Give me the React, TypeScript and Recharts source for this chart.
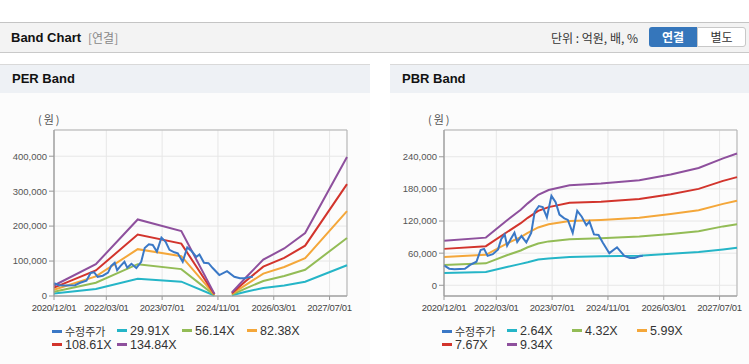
import React from "react";
import { LineChart, Line, XAxis, YAxis, CartesianGrid, ReferenceArea } from "recharts";

// x axis: months since 2020/12
const MONTH_TICKS = [0, 15, 31, 47, 63, 79];
const TICK_LABELS = ["2020/12/01", "2022/03/01", "2023/07/01", "2024/11/01", "2026/03/01", "2027/07/01"];

const PRICE_M = [0, 1.5, 3, 6, 7.5, 9.3, 10.5, 11.5, 12.5, 14, 15.5, 16.4, 17.4, 18.1, 19.1, 20.2, 21, 22.2, 23.6, 25, 26, 27.2, 28.3, 29.5, 30.8, 32, 33.1, 34.5, 35.5, 36.9, 38.2, 39.5, 40.8, 41.7, 43, 44.3, 45.5, 47.4, 49.6, 51.7, 53.3, 54.6, 56, 57];
const PRICE = [37000, 31000, 30000, 31000, 38000, 44000, 66000, 68000, 55000, 58000, 67000, 86000, 95000, 74000, 86000, 98000, 81000, 92000, 80000, 98000, 137000, 148000, 146000, 127000, 167000, 155000, 132000, 125000, 122000, 98000, 139000, 128000, 112000, 119000, 95000, 94000, 80000, 60000, 71000, 55000, 51000, 51000, 54000, 55000];

// PER band (gap between 2024/10 and 2025/03)
const PER_M = [0, 12, 24, 36.5, 46, 48, 51, 55, 60, 66, 72, 84];
const PER_1 = [7000, 20000, 49000, 41000, 1300, null, 2000, 12000, 23000, 30000, 41000, 88000];
const PER_2 = [12000, 38000, 91000, 77000, 2500, null, 4000, 22000, 43000, 57000, 75000, 166000];
const PER_3 = [18000, 56000, 134000, 114000, 4000, null, 6000, 32000, 64000, 83000, 108000, 243000];
const PER_4 = [24000, 73000, 176000, 150000, 5000, null, 8000, 43000, 84000, 109000, 144000, 320000];
const PER_5 = [30000, 91000, 219000, 186000, 6000, null, 10000, 53000, 104000, 136000, 180000, 398000];
const PER_NAMES = ["29.91X", "56.14X", "82.38X", "108.61X", "134.84X"];

// PBR band
const PBR_M = [0, 12, 18, 22, 24, 27, 30, 36, 45, 56, 65, 73, 80, 84];
const PBR_1 = [23000, 25000, 34000, 40000, 43000, 48000, 50000, 53000, 54000, 55000, 59000, 62000, 67000, 70000];
const PBR_2 = [38000, 41000, 56000, 65000, 71000, 78000, 82000, 86000, 88000, 91000, 96000, 101000, 110000, 114000];
const PBR_3 = [53000, 57000, 78000, 90000, 98000, 108000, 114000, 120000, 122000, 126000, 133000, 140000, 152000, 158000];
const PBR_4 = [68000, 73000, 99000, 116000, 126000, 139000, 146000, 154000, 156000, 161000, 170000, 180000, 195000, 202000];
const PBR_5 = [83000, 89000, 121000, 141000, 153000, 169000, 178000, 187000, 190000, 196000, 207000, 219000, 237000, 246000];
const PBR_NAMES = ["2.64X", "4.32X", "5.99X", "7.67X", "9.34X"];

const PRICE_NAME = "수정주가";
const PRICE_COLOR = "#3a78c6";
const BAND_COLORS = ["#25b5c7", "#93bc56", "#f4a73a", "#d2342c", "#8e509d"];

const FONT = '"Liberation Sans", Arial, "Noto Sans CJK KR", sans-serif';

const pts = (xs: number[], ys: (number | null)[]) => xs.map((m, i) => ({ m, v: ys[i] }));

type PanelProps = {
  title: string;
  left: number;
  width: number;
  rightMargin: number;
  bandM: number[];
  bands: (number | null)[][];
  names: string[];
  domain: [number, number];
  yTicks: number[];
};

function Panel({ title, left, width, rightMargin, bandM, bands, names, domain, yTicks }: PanelProps) {
  const price = pts(PRICE_M, PRICE);
  const legend = [{ name: PRICE_NAME, color: PRICE_COLOR }].concat(
    names.map((n, i) => ({ name: n, color: BAND_COLORS[i] }))
  );
  return (
    <div
      style={{
        position: "absolute",
        left,
        top: 64,
        width,
        height: 299,
        background: "#fcfcfc",
        borderTop: "1px solid #d9d9d9",
        borderBottom: "1px solid #cfcfcf",
      }}
    >
      <div
        style={{
          height: 28,
          background: "#eef1f5",
          fontFamily: FONT,
          fontWeight: "bold",
          fontSize: 13,
          lineHeight: "28px",
          paddingLeft: 12,
          color: "#111",
        }}
      >
        {title}
      </div>
      <div
        style={{
          position: "absolute",
          left: 38,
          top: 46,
          fontFamily: '"Noto Sans CJK KR", sans-serif',
          fontSize: 11,
          color: "#555",
          letterSpacing: 2,
        }}
      >
        (원)
      </div>
      <div style={{ position: "absolute", left: 0, top: 40 }}>
        <LineChart
          width={width}
          height={211}
          margin={{ top: 25, right: rightMargin, left: 0, bottom: 0 }}
        >
          <CartesianGrid stroke="#e7e7e7" />
          <XAxis
            dataKey="m"
            type="number"
            domain={[0, 84]}
            ticks={MONTH_TICKS}
            tickFormatter={(v) => TICK_LABELS[MONTH_TICKS.indexOf(v)] ?? ""}
            allowDuplicatedCategory={false}
            height={20}
            stroke="#9a9a9a"
            tickSize={4}
            tickMargin={4}
            tick={{ fill: "#444", fontSize: 9.5, fontFamily: FONT, letterSpacing: -0.3 }}
            interval={0}
          />
          <YAxis
            type="number"
            domain={domain}
            ticks={yTicks}
            width={54}
            stroke="#9a9a9a"
            tickSize={5}
            tickFormatter={(v) => Number(v).toLocaleString("en-US")}
            tick={{ fill: "#555", fontSize: 9.5, fontFamily: FONT }}
            interval={0}
          />
          <ReferenceArea
            x1={0}
            x2={84}
            y1={domain[0]}
            y2={domain[1]}
            fill="none"
            stroke="#b3b3b3"
            strokeWidth={1}
          />
          {bands.map((b, i) => (
            <Line
              key={names[i]}
              data={pts(bandM, b)}
              dataKey="v"
              type="linear"
              stroke={BAND_COLORS[i]}
              strokeWidth={2}
              dot={false}
              connectNulls={false}
              isAnimationActive={false}
            />
          ))}
          <Line
            data={price}
            dataKey="v"
            type="linear"
            stroke={PRICE_COLOR}
            strokeWidth={2}
            dot={false}
            isAnimationActive={false}
          />
        </LineChart>
      </div>
      <div
        style={{
          position: "absolute",
          left: 52,
          top: 260,
          width: 270,
          display: "flex",
          flexWrap: "wrap",
          fontFamily: FONT,
          fontSize: 12.5,
          color: "#333",
        }}
      >
        {legend.map((l) => (
          <div key={l.name} style={{ width: 65, height: 13.5, lineHeight: "13px", whiteSpace: "nowrap" }}>
            <span
              style={{
                display: "inline-block",
                width: 10,
                height: 3,
                background: l.color,
                verticalAlign: "middle",
                marginRight: 3,
                marginTop: -2,
              }}
            />
            <span
              style={
                l.name === PRICE_NAME
                  ? { fontFamily: '"Noto Sans CJK KR", sans-serif', fontSize: 11 }
                  : undefined
              }
            >
              {l.name}
            </span>
          </div>
        ))}
      </div>
    </div>
  );
}

export default function App() {
  return (
    <div
      style={{
        position: "absolute",
        left: 0,
        top: 0,
        width: 749,
        height: 364,
        background: "#fff",
        overflow: "hidden",
      }}
    >
      <div
        style={{
          position: "absolute",
          left: 0,
          top: 22,
          width: 749,
          height: 29,
          background: "#f3f3f3",
          borderTop: "1px solid #c4c4c4",
          borderBottom: "1px solid #c9c9c9",
          fontFamily: FONT,
        }}
      >
        <span
          style={{
            position: "absolute",
            left: 11,
            top: 7,
            fontWeight: "bold",
            fontSize: 13,
            color: "#111",
          }}
        >
          Band Chart
        </span>
        <span
          style={{
            position: "absolute",
            left: 88,
            top: 7,
            fontSize: 12,
            color: "#888",
            fontFamily: '"Noto Sans CJK KR", sans-serif',
            lineHeight: "15px",
          }}
        >
          [연결]
        </span>
        <span
          style={{
            position: "absolute",
            left: 551,
            top: 7,
            fontSize: 12,
            color: "#333",
            fontFamily: '"Noto Sans CJK KR", sans-serif',
            lineHeight: "15px",
          }}
        >
          단위 : 억원, 배, %
        </span>
        <div
          style={{
            position: "absolute",
            left: 649,
            top: 4,
            width: 48,
            height: 20,
            background: "#3576bb",
            borderRadius: "3px 0 0 3px",
            color: "#fff",
            fontWeight: "bold",
            fontSize: 12,
            lineHeight: "20px",
            textAlign: "center",
            fontFamily: '"Noto Sans CJK KR", sans-serif',
          }}
        >
          연결
        </div>
        <div
          style={{
            position: "absolute",
            left: 697,
            top: 4,
            width: 47,
            height: 18,
            background: "#fff",
            border: "1px solid #c8c8c8",
            borderRadius: "0 3px 3px 0",
            color: "#333",
            fontSize: 12,
            lineHeight: "18px",
            textAlign: "center",
            fontFamily: '"Noto Sans CJK KR", sans-serif',
          }}
        >
          별도
        </div>
      </div>
      <Panel
        title="PER Band"
        left={0}
        width={370}
        rightMargin={23}
        bandM={PER_M}
        bands={[PER_1, PER_2, PER_3, PER_4, PER_5]}
        names={PER_NAMES}
        domain={[0, 475000]}
        yTicks={[0, 100000, 200000, 300000, 400000]}
      />
      <Panel
        title="PBR Band"
        left={390}
        width={359}
        rightMargin={12}
        bandM={PBR_M}
        bands={[PBR_1, PBR_2, PBR_3, PBR_4, PBR_5]}
        names={PBR_NAMES}
        domain={[-20000, 290000]}
        yTicks={[0, 60000, 120000, 180000, 240000]}
      />
    </div>
  );
}
